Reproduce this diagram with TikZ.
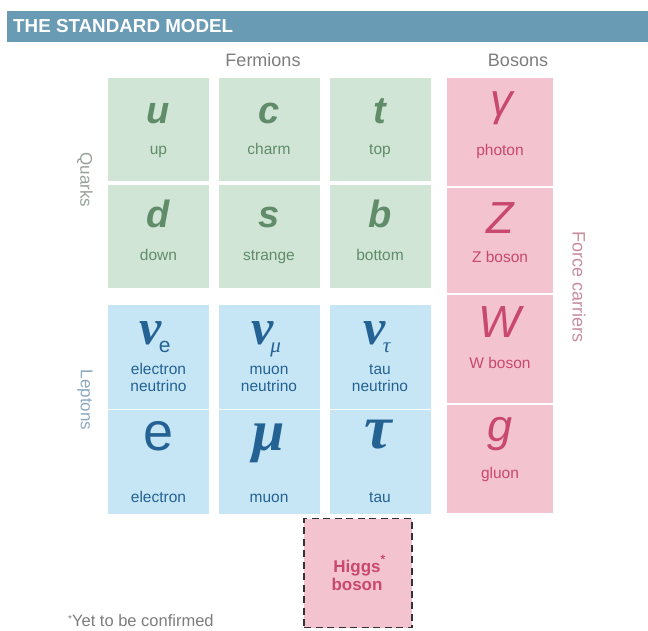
\documentclass[tikz,border=0pt]{standalone}
\usepackage{fontspec}
\setmainfont{Liberation Sans}
\newfontfamily\serifsym{Liberation Serif}
\definecolor{headbg}{RGB}{106,155,181}
\definecolor{gfill}{RGB}{208,229,213}
\definecolor{gtext}{RGB}{96,140,106}
\definecolor{bfill}{RGB}{198,230,245}
\definecolor{btext}{RGB}{36,98,148}
\definecolor{pfill}{RGB}{244,195,208}
\definecolor{ptext}{RGB}{200,72,112}
\definecolor{graytext}{RGB}{125,125,125}
\definecolor{qtext}{RGB}{150,162,152}
\definecolor{ltext}{RGB}{140,168,192}
\definecolor{ftext}{RGB}{200,140,158}
\newcommand{\fsz}[1]{\fontsize{#1}{#1}\selectfont}
\newcommand{\nusub}[1]{\kern-3pt\raisebox{-8pt}{#1}}
\begin{document}
\begin{tikzpicture}[x=1pt,y=-1pt,
  cellbox/.style={draw=none, inner sep=0pt, minimum width=#1},
  gcell/.style={cellbox=101pt, fill=gfill, minimum height=103pt},
  bcell/.style={cellbox=101pt, fill=bfill, minimum height=104pt},
  pcell/.style={cellbox=106pt, fill=pfill, minimum height=106pt},
  txt/.style={inner sep=0pt, anchor=base},
  gsym/.style={txt, text=gtext, font=\fsz{38}\bfseries\itshape},
  glab/.style={txt, text=gtext, font=\fsz{15.5}},
  bsym/.style={txt, text=btext, font=\fsz{50}\serifsym\bfseries\itshape},
  blab/.style={txt, text=btext, font=\fsz{15.5}},
  psym/.style={txt, text=ptext, font=\fsz{45}\itshape},
  plab/.style={txt, text=ptext, font=\fsz{15.5}},
  side/.style={inner sep=0pt, rotate=-90, font=\fsz{17}}
]
\useasboundingbox (0,0) rectangle (648,630);
\fill[white] (0,0) rectangle (648,630);
% header
\node[fill=headbg, inner sep=0pt, minimum width=641pt, minimum height=31pt, anchor=north west] (head) at (7,11) {};
\node[txt, anchor=base west, text=white, font=\fsz{18.8}\bfseries] (title) at (13,32) {THE STANDARD MODEL};
\node[txt, text=graytext, font=\fsz{18}] (ferm) at (263,66) {Fermions};
\node[txt, text=graytext, font=\fsz{18}] (bos) at (518,66) {Bosons};
% quark cells
\node[gcell] (cu) at (158.5,129.5) {};
\node[gcell] (cc) at (269,129.5) {};
\node[gcell] (ct) at (380,129.5) {};
\node[gcell] (cd) at (158.5,236) {};
\node[gcell] (cs) at (269,236) {};
\node[gcell] (cb) at (380,236) {};
% lepton cells
\node[bcell] (cnue) at (158.5,357) {};
\node[bcell] (cnum) at (269,357) {};
\node[bcell] (cnut) at (380,357) {};
\node[bcell] (ce) at (158.5,461.5) {};
\node[bcell] (cmu) at (269,461.5) {};
\node[bcell] (ctau) at (380,461.5) {};
% boson cells
\node[pcell, minimum height=108pt] (cgam) at (500,132) {};
\node[pcell, minimum height=105pt] (cz) at (500,240.5) {};
\node[pcell, minimum height=108pt] (cw) at (500,349) {};
\node[pcell, minimum height=108pt] (cg) at (500,459) {};
% Higgs
\node[fill=pfill, draw=black!80, line width=1.6pt, dash pattern=on 7pt off 4.5pt, inner sep=0pt, minimum width=108pt, minimum height=109pt] (higgs) at (358,573) {};
% quark symbols
\node[gsym] (su) at (158.5,123) {u};
\node[gsym] (sc) at (269,123) {c};
\node[gsym] (st) at (380,123) {t};
\node[gsym] (sd) at (158.5,227) {d};
\node[gsym] (ss) at (269,227) {s};
\node[gsym] (sb) at (380,227) {b};
\node[glab] (lu) at (158.5,154) {up};
\node[glab] (lc) at (269,154) {charm};
\node[glab] (lt) at (380,154) {top};
\node[glab] (ld) at (158.5,260) {down};
\node[glab] (ls) at (269,260) {strange};
\node[glab] (lb) at (380,260) {bottom};
% lepton symbols
\node[bsym] (snue) at (155,344) {ν\nusub{\fsz{21}\rmfamily\upshape\mdseries e}};
\node[bsym] (snum) at (266,344) {ν\nusub{\fsz{21}\mdseries μ}};
\node[bsym] (snut) at (377,344) {ν\nusub{\fsz{21}\mdseries τ}};
\node[blab] (lnue1) at (158.5,374) {electron};
\node[blab] (lnue2) at (158.5,391) {neutrino};
\node[blab] (lnum1) at (269,374) {muon};
\node[blab] (lnum2) at (269,391) {neutrino};
\node[blab] (lnut1) at (380,374) {tau};
\node[blab] (lnut2) at (380,391) {neutrino};
\node[txt, text=btext, font=\fsz{54}] (se) at (158.5,450) {e};
\node[bsym, font=\fsz{58}\serifsym\bfseries\itshape] (smu) at (269,450) {μ};
\node[bsym, font=\fsz{62}\serifsym\bfseries\itshape] (stau) at (378,448) {τ};
\node[blab] (le) at (158.5,502) {electron};
\node[blab] (lmu) at (269,502) {muon};
\node[blab] (ltau) at (380,502) {tau};
% boson symbols
\node[psym] (sgam) at (502,115) {γ};
\node[psym] (sz) at (500,233) {Z};
\node[psym] (sw) at (500,337) {W};
\node[psym] (sg) at (500,441) {g};
\node[plab] (lgam) at (500,155) {photon};
\node[plab] (lz) at (500,262) {Z boson};
\node[plab] (lw) at (500,368) {W boson};
\node[plab] (lg) at (500,478) {gluon};
% Higgs text
\node[txt, text=ptext, font=\fsz{17}\bfseries] (hl1) at (357,572) {Higgs\rlap{\raisebox{9pt}{\fsz{12}*}}};
\node[txt, text=ptext, font=\fsz{17}\bfseries] (hl2) at (357,590) {boson};
% side labels
\node[side, text=qtext] (quarks) at (85,180) {Quarks};
\node[side, text=ltext] (leptons) at (85,400) {Leptons};
\node[side, text=ftext, font=\fsz{18}] (force) at (579,287) {Force carriers};
% footnote
\node[txt, anchor=base west, text=graytext, font=\fsz{16.5}] (note) at (68,626) {\raisebox{4pt}{\fsz{10}*}Yet to be confirmed};
\end{tikzpicture}
\end{document}
